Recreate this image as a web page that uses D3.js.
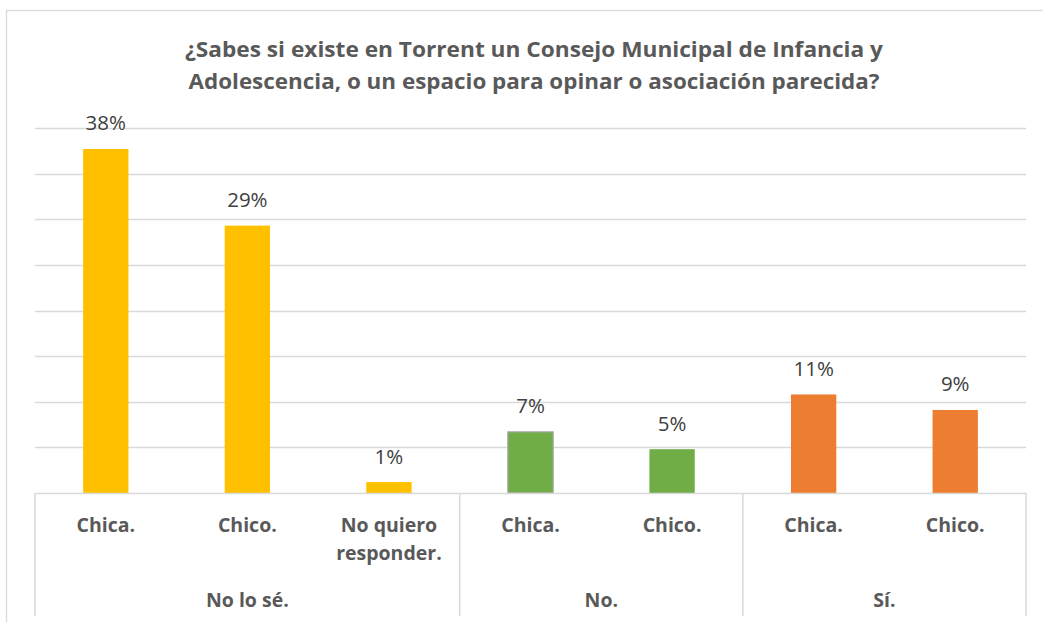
<!DOCTYPE html>
<html>
<head>
<meta charset="utf-8">
<script src="https://cdn.jsdelivr.net/npm/d3@7"></script>
<style>
  body { margin: 0; background: #fff; }
  svg { display: block; }
  text { font-family: "Open Sans", Lato, sans-serif; }
</style>
</head>
<body>
<div id="chart"></div>
<script>
// data
var titleLines = ["¿Sabes si existe en Torrent un Consejo Municipal de Infancia y",
                  "Adolescencia, o un espacio para opinar o asociación parecida?"];
var groups = ["No lo sé.", "No.", "Sí."];
var groupColors = ["#FFC000", "#70AD47", "#ED7D31"];
var categories = ["Chica.", "Chico.", "No quiero|responder.", "Chica.", "Chico.", "Chica.", "Chico."];
var groupOf = [0, 0, 0, 1, 1, 2, 2];
var values = [37.7, 29.3, 1.2, 6.7, 4.8, 10.8, 9.1];
var valueLabels = ["38%", "29%", "1%", "7%", "5%", "11%", "9%"];
var yTicks = [0, 5, 10, 15, 20, 25, 30, 35, 40];

var W = 1043, H = 622;
var margin = {top: 128, right: 17, bottom: 129, left: 35};

var svg = d3.select("#chart").append("svg")
  .attr("width", W)
  .attr("height", H);

// chart frame (runs off the right and bottom edges)
svg.append("rect")
  .attr("x", 6.5).attr("y", 10.5)
  .attr("width", 1200).attr("height", 800)
  .attr("fill", "#fff")
  .attr("stroke", "#d9d9d9")
  .attr("stroke-width", 1.3);

var idx = d3.range(values.length);

var x = d3.scaleBand()
  .domain(idx)
  .range([margin.left, W - margin.right])
  .paddingInner(0.68)
  .paddingOuter(0.34);

var y = d3.scaleLinear()
  .domain([0, 40])
  .range([H - margin.bottom, margin.top]);

// title
svg.append("g").selectAll("text")
  .data(titleLines)
  .join("text")
  .attr("x", 534)
  .attr("y", (d, i) => 57 + i * 32)
  .attr("text-anchor", "middle")
  .attr("font-size", 20.5)
  .attr("font-weight", "bold")
  .attr("fill", "#595959")
  .attr("textLength", (d, i) => i == 0 ? 698 : 691)
  .attr("lengthAdjust", "spacingAndGlyphs")
  .text(d => d);

// gridlines
svg.append("g").selectAll("line")
  .data(yTicks.slice(1))
  .join("line")
  .attr("x1", margin.left).attr("x2", W - margin.right)
  .attr("y1", d => Math.round(y(d)) + 0.5).attr("y2", d => Math.round(y(d)) + 0.5)
  .attr("stroke", "#d9d9d9")
  .attr("stroke-width", 1.3);

// bars
svg.append("g").selectAll("rect")
  .data(idx)
  .join("rect")
  .attr("x", d => x(d))
  .attr("width", x.bandwidth())
  .attr("y", d => y(values[d]))
  .attr("height", d => y(0) - y(values[d]))
  .attr("fill", d => groupColors[groupOf[d]])
  .attr("stroke", d => d == 3 ? "#a5a5a5" : "none")
  .attr("stroke-width", 1.2);

// value labels
svg.append("g").selectAll("text")
  .data(idx)
  .join("text")
  .attr("x", d => x(d) + x.bandwidth() / 2)
  .attr("y", d => y(values[d]) - 18.5)
  .attr("text-anchor", "middle")
  .attr("font-size", 20.5)
  .attr("fill", "#404040")
  .text(d => valueLabels[d]);

// category axis: baseline and group separators
var axisG = svg.append("g");
axisG.append("line")
  .attr("x1", margin.left).attr("x2", W - margin.right)
  .attr("y1", y(0) + 0.5).attr("y2", y(0) + 0.5)
  .attr("stroke", "#d9d9d9").attr("stroke-width", 1.5);

var step = x.step();
var bounds = [0];
groups.forEach(function(g, gi) {
  bounds.push(groupOf.filter(d => d <= gi).length);
});
axisG.selectAll(".sep")
  .data(bounds)
  .join("line")
  .attr("class", "sep")
  .attr("x1", d => margin.left + d * step).attr("x2", d => margin.left + d * step)
  .attr("y1", y(0)).attr("y2", 616)
  .attr("stroke", "#d9d9d9").attr("stroke-width", 1.5);

// inner category labels
var catText = axisG.selectAll(".cat")
  .data(idx)
  .join("text")
  .attr("class", "cat")
  .attr("text-anchor", "middle")
  .attr("font-size", 19.5)
  .attr("font-weight", "bold")
  .attr("fill", "#595959");
catText.selectAll("tspan")
  .data(d => categories[d].split("|").map(t => ({t: t, i: d})))
  .join("tspan")
  .attr("x", d => x(d.i) + x.bandwidth() / 2)
  .attr("y", (d, k) => 532 + k * 28)
  .text(d => d.t);

// group labels
axisG.selectAll(".grp")
  .data(groups)
  .join("text")
  .attr("class", "grp")
  .attr("x", (d, i) => margin.left + (bounds[i] + bounds[i + 1]) / 2 * step)
  .attr("y", 607)
  .attr("text-anchor", "middle")
  .attr("font-size", 19.5)
  .attr("font-weight", "bold")
  .attr("fill", "#595959")
  .text(d => d);
</script>
</body>
</html>
